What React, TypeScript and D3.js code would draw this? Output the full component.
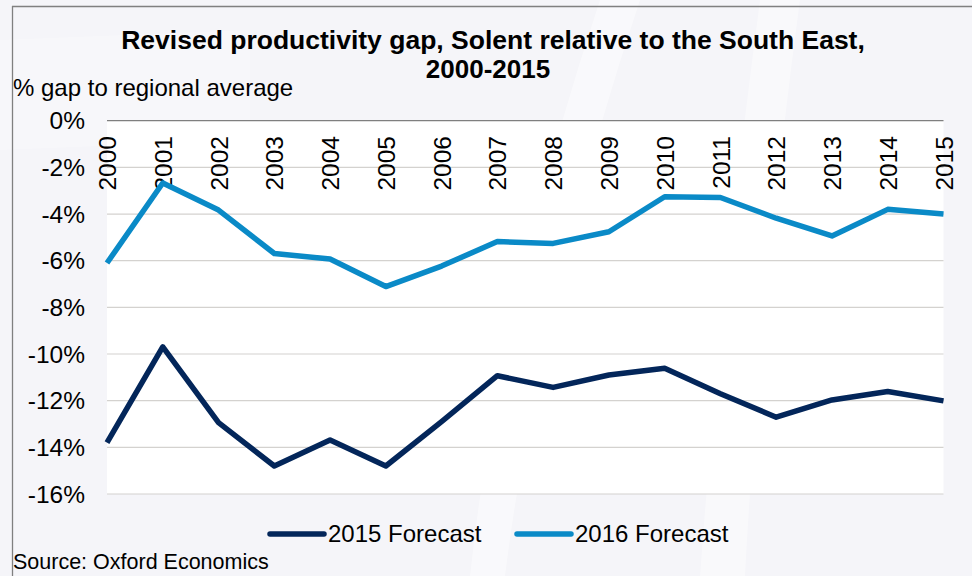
import React from "react";
import * as d3 from "d3";

const years = ["2000","2001","2002","2003","2004","2005","2006","2007","2008","2009","2010","2011","2012","2013","2014","2015"];
const forecast2015 = [-13.8,-9.69,-12.94,-14.8,-13.69,-14.8,-12.9,-10.93,-11.43,-10.9,-10.61,-11.7,-12.71,-11.97,-11.61,-12.01];
const forecast2016 = [-6.1,-2.67,-3.83,-5.69,-5.93,-7.11,-6.23,-5.18,-5.26,-4.76,-3.26,-3.29,-4.18,-4.94,-3.8,-4.0];
const yTicks = [0,-2,-4,-6,-8,-10,-12,-14,-16];
const seriesNames = ["2015 Forecast","2016 Forecast"];
const seriesColors = ["#03265a","#0a8ac7"];

const W = 972, H = 576;
const font = "Arial, 'Liberation Sans', sans-serif";

export default function App() {
  const x = d3.scalePoint<string>().domain(years).range([107, 943.5]);
  const y = d3.scaleLinear().domain([-16, 0]).range([494, 120.7]);
  const line = d3.line<number>().x((_, i) => x(years[i]) as number).y(d => y(d));
  const series = [forecast2015, forecast2016];

  return (
    <svg width={W} height={H} style={{ position: "absolute", left: 0, top: 0 }} fontFamily={font}>
      <rect x={0} y={0} width={W} height={H} fill="#f5f5f9" />
      {/* faint background shapes */}
      <path d="M470,576 L505,576 Q540,300 640,0 L600,0 Q500,300 470,576 Z" fill="#ffffff" opacity={0.45} />
      <path d="M700,576 L745,576 Q760,300 800,0 L760,0 Q720,300 700,576 Z" fill="#ffffff" opacity={0.4} />
      <path d="M0,40 L250,30 L250,140 L0,150 Z" fill="#ffffff" opacity={0.25} />
      {/* frame */}
      <line x1={12.5} y1={6} x2={12.5} y2={H} stroke="#808080" strokeWidth={1.3} />
      <line x1={12} y1={6.5} x2={W} y2={6.5} stroke="#808080" strokeWidth={1.3} />
      {/* plot area */}
      <rect x={107} y={y(0)} width={943.5 - 107} height={y(-16) - y(0)} fill="#ffffff" />
      {yTicks.map(t => (
        <g key={t}>
          <line x1={107} x2={943.5} y1={y(t)} y2={y(t)} stroke={t === 0 ? "#7f7f7f" : "#d4d2cf"} strokeWidth={t === 0 ? 1.3 : 1.2} />
          <text x={85} y={y(t)} dy="0.35em" textAnchor="end" fontSize={24.5} fill="#000">{`${t}%`}</text>
        </g>
      ))}
      {years.map(yr => (
        <text key={yr} transform={`translate(${(x(yr) as number) + 0.5},136) rotate(-90)`} dy="0.35em" textAnchor="end" fontSize={24.5} fill="#000">{yr}</text>
      ))}
      {series.map((s, i) => (
        <path key={i} d={line(s) as string} fill="none" stroke={seriesColors[i]} strokeWidth={5.5} strokeLinejoin="round" />
      ))}
      {/* title */}
      <text x={493} y={49} textAnchor="middle" fontSize={26.5} fontWeight="bold" fill="#000">Revised productivity gap, Solent relative to the South East,</text>
      <text x={488} y={78} textAnchor="middle" fontSize={26} fontWeight="bold" fill="#000">2000-2015</text>
      <text x={13} y={96} fontSize={24} fill="#000">% gap to regional average</text>
      {/* legend */}
      {seriesNames.map((n, i) => {
        const lx = i === 0 ? 270 : 517;
        return (
          <g key={n}>
            <line x1={lx} x2={lx + 54} y1={534} y2={534} stroke={seriesColors[i]} strokeWidth={5.5} strokeLinecap="round" />
            <text x={lx + 58} y={542} fontSize={24} fill="#000">{n}</text>
          </g>
        );
      })}
      <text x={13} y={569} fontSize={21.5} fill="#000">Source: Oxford Economics</text>
    </svg>
  );
}
